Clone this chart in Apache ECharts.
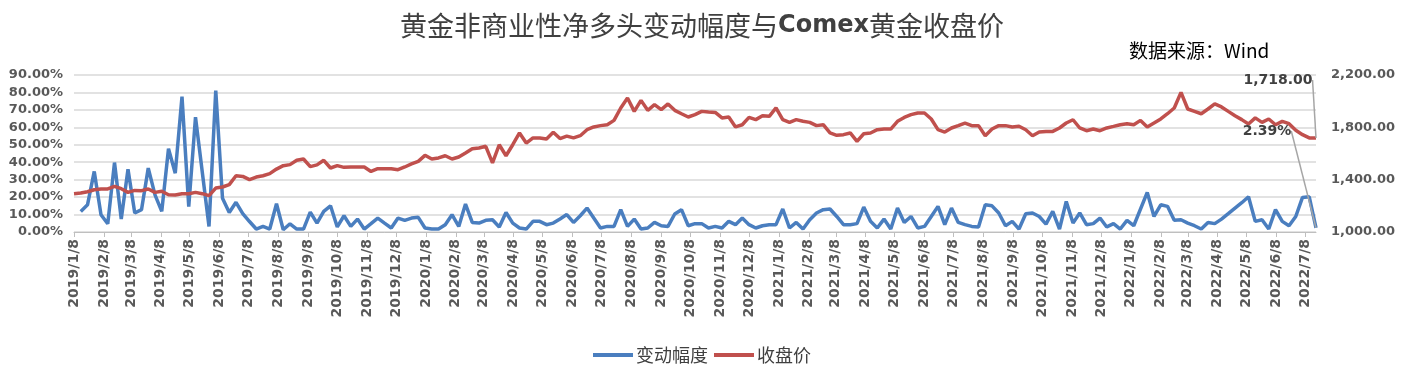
<!DOCTYPE html>
<html><head><meta charset="utf-8">
<script src="https://cdn.jsdelivr.net/npm/echarts@6/dist/echarts.min.js"></script>
<style>html,body{margin:0;padding:0;background:#fff}#c{width:1404px;height:373px}</style>
</head><body><div id="c"></div>
<script>
// weekly observations starting 2019/1/8
const startDate = [2019, 1, 8];
const weekStep = 7;

// 变动幅度 (%), weekly
const changePct = [
  null,11.8,15.6,34.7,9.9,4.7,39.8,7.4,36,10.9,
  12.8,36.6,21.3,11.8,47.7,33.7,77.6,14.6,65.8,null,
  3.2,81,19.4,11.2,17,10.5,6,1.7,3.2,1.7,
  16.2,1.3,4.7,1.7,1.7,11.4,5.1,11.8,15,2.9,
  9.3,3.2,7.4,1.7,4.8,8,5.1,2.3,8,6.7,
  8,8.4,2.3,1.7,1.7,4.2,9.9,3.2,16,5.5,
  5.1,6.7,7,2.9,11.2,5.1,2.3,1.7,6.1,6.1,
  4.2,5.1,7.5,10,5.5,9.3,13.7,8,2.3,3.2,
  3.2,12.8,3.2,7.4,1.7,2.3,5.5,3.6,3.2,10.3,
  12.8,3.6,4.8,4.8,2.3,3.2,2.3,6.1,4.2,8,
  4.2,2.3,3.6,4.2,4.2,13.2,2.3,5.5,1.7,7,
  10.9,12.8,13.2,8.9,4.2,4.2,4.8,14.3,6.1,2.3,
  7.4,1.7,13.7,5.5,8.9,2.3,3.2,8.9,14.7,4.2,
  13.7,5.5,4.2,3.2,2.9,15.6,15,10.9,3.6,6.1,
  1.7,10.5,10.9,8.9,4.5,11.8,1.7,17.5,5.1,10.9,
  4.2,4.8,8,2.9,4.8,1.7,6.7,3.6,null,22.7,
  8.9,15.6,14.7,6.7,7,5.1,3.6,1.7,5.5,4.8,
  7.4,10.5,13.7,16.8,20.2,6.1,7,1.7,12.8,6.1,
  3.6,8.9,19.8,20.2,2.39
];

// 收盘价 (Comex gold close), weekly
const closePrice = [
  1293,1298,1308,1323,1329,1329,1349,1331,1303,1318,
  1316,1329,1303,1311,1285,1283,1293,1293,1303,1293,
  1278,1336,1344,1362,1430,1425,1400,1420,1430,1446,
  1481,1507,1515,1548,1558,1500,1513,1548,1489,1507,
  1494,1497,1497,1497,1463,1484,1484,1484,1476,1497,
  1520,1540,1586,1558,1566,1583,1558,1573,1604,1637,
  1642,1655,1528,1667,1583,1667,1757,1680,1719,1719,
  1711,1762,1714,1733,1719,1736,1782,1803,1813,1820,
  1853,1948,2024,1922,2006,1930,1973,1935,1979,1930,
  1904,1879,1897,1922,1917,1914,1872,1879,1803,1820,
  1876,1859,1889,1884,1948,1859,1838,1859,1846,1838,
  1813,1820,1757,1739,1744,1757,1693,1751,1757,1782,
  1787,1787,1846,1876,1897,1910,1910,1864,1782,1764,
  1795,1813,1833,1813,1813,1736,1787,1813,1813,1803,
  1808,1782,1736,1764,1769,1769,1795,1833,1858,1795,
  1774,1787,1774,1795,1807,1820,1828,1820,1853,1803,
  1833,1864,1904,1948,2067,1940,1922,1904,1940,1979,
  1956,1922,1889,1859,1826,1872,1838,1864,1820,1846,
  1828,1777,1744,1719,1718
];

const seriesNames = ['变动幅度', '收盘价'];
const leftAxis = {min: 0, max: 90, interval: 10};
const rightAxis = {min: 1000, max: 2200, interval: 400};

// daily category axis so monthly "x/8" ticks fall at true dates
const totalDays = (closePrice.length - 1) * weekStep;
const t0 = Date.UTC(startDate[0], startDate[1] - 1, startDate[2]);
const days = [];
for (let d = 0; d <= totalDays; d++) {
  const dt = new Date(t0 + d * 86400000);
  days.push(dt.getUTCFullYear() + '/' + (dt.getUTCMonth() + 1) + '/' + dt.getUTCDate());
}
const isMonthTick = (idx, val) => val.split('/')[2] === '8';

function toPairs(arr) {
  const out = [];
  arr.forEach((v, i) => {
    if (v === null) return;
    const item = {value: [i * weekStep, v]};
    if (i === arr.length - 1) item.label = {show: true};
    out.push(item);
  });
  return out;
}
function fmtThousands(v) {
  return v.toFixed(2).replace(/\B(?=(\d{3})+(?!\d))/g, ',');
}

const AX_FONT = 'DejaVu Sans';
const chart = echarts.init(document.getElementById('c'), null, {renderer: 'canvas'});
chart.setOption({
  animation: false,
  backgroundColor: '#fff',
  title: [{
    text: '黄金非商业性净多头变动幅度与{b|Comex}黄金收盘价',
    left: 'center', top: 7,
    textStyle: {
      fontFamily: 'Noto Sans CJK SC', fontSize: 27, fontWeight: 'normal', color: '#404040',
      rich: {b: {fontFamily: 'DejaVu Sans', fontWeight: 'bold', fontSize: 24, color: '#404040'}}
    }
  }, {
    text: '数据来源：Wind',
    left: 1124, top: 36,
    textStyle: {fontFamily: 'Noto Sans CJK SC', fontSize: 19, fontWeight: 'normal', color: '#000'}
  }],
  legend: {
    data: seriesNames,
    left: 'center', top: 341,
    icon: 'rect', itemWidth: 40, itemHeight: 4, itemGap: 6,
    textStyle: {fontFamily: 'Noto Sans CJK SC', fontSize: 18, color: '#404040', padding: [0, 0, 0, -2]}
  },
  grid: {left: 74, right: 88, top: 75, bottom: 141, containLabel: false},
  xAxis: {
    type: 'category', data: days, boundaryGap: false,
    axisLine: {lineStyle: {color: '#bfbfbf', width: 1}},
    axisTick: {interval: isMonthTick, length: 5, lineStyle: {color: '#bfbfbf'}},
    axisLabel: {
      interval: isMonthTick, rotate: 90, margin: 7,
      fontFamily: AX_FONT, fontWeight: 'bold', fontSize: 14, color: '#595959'
    },
    splitLine: {show: false}
  },
  yAxis: [{
    type: 'value', min: leftAxis.min, max: leftAxis.max, interval: leftAxis.interval,
    axisLine: {show: false}, axisTick: {show: false},
    axisLabel: {margin: 11, formatter: v => v.toFixed(2) + '%',
      fontFamily: AX_FONT, fontWeight: 'bold', fontSize: 13, color: '#595959'},
    splitLine: {lineStyle: {color: '#d9d9d9', width: 1.5}}
  }, {
    type: 'value', min: rightAxis.min, max: rightAxis.max, interval: rightAxis.interval,
    position: 'right',
    axisLine: {show: false}, axisTick: {show: false},
    axisLabel: {margin: 15, formatter: v => fmtThousands(v),
      fontFamily: AX_FONT, fontWeight: 'bold', fontSize: 13, color: '#595959'},
    splitLine: {show: false}
  }],
  series: [{
    name: seriesNames[0], type: 'line', yAxisIndex: 0,
    data: toPairs(changePct), connectNulls: true,
    symbol: 'circle', symbolSize: 0.01, showSymbol: true, showAllSymbol: true,
    lineStyle: {color: '#4a7ebf', width: 3.5}, itemStyle: {color: '#4a7ebf'},
    label: {show: false, formatter: p => p.value[1].toFixed(2) + '%',
      fontFamily: AX_FONT, fontWeight: 'bold', fontSize: 14, color: '#404040'},
    labelLayout: {x: 1267, y: 131, align: 'center', verticalAlign: 'middle'},
    labelLine: {show: true, lineStyle: {color: '#a6a6a6', width: 1.5}}
  }, {
    name: seriesNames[1], type: 'line', yAxisIndex: 1,
    data: toPairs(closePrice),
    symbol: 'circle', symbolSize: 0.01, showSymbol: true, showAllSymbol: true,
    lineStyle: {color: '#c0504d', width: 3.5}, itemStyle: {color: '#c0504d'},
    label: {show: false, formatter: p => fmtThousands(p.value[1]),
      fontFamily: AX_FONT, fontWeight: 'bold', fontSize: 14, color: '#404040'},
    labelLayout: {x: 1278, y: 80, align: 'center', verticalAlign: 'middle'},
    labelLine: {show: true, lineStyle: {color: '#a6a6a6', width: 1.5}}
  }]
});
</script>
</body></html>
